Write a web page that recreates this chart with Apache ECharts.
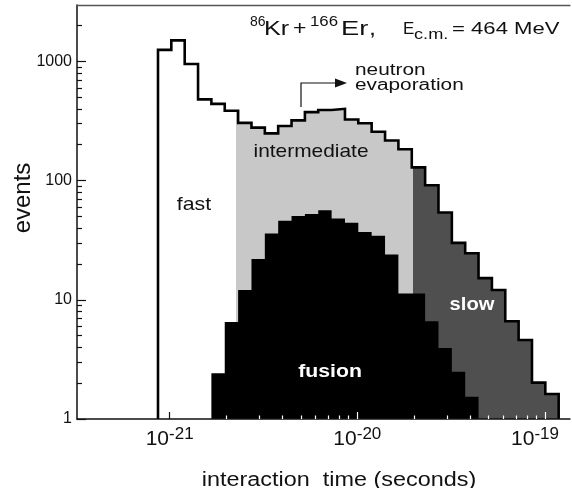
<!DOCTYPE html>
<html>
<head>
<meta charset="utf-8">
<script src="https://cdn.jsdelivr.net/npm/echarts@6/dist/echarts.min.js"></script>
<style>
  html, body { margin: 0; padding: 0; background: #fff; }
  #chart { width: 572px; height: 488px; }
</style>
</head>
<body>
<div id="chart"></div>
<script>
// interaction-time histogram, 30 log-spaced bins (edges in seconds)
const binEdges = [
  8.67e-22, 1.021e-21, 1.203e-21, 1.417e-21, 1.669e-21, 1.966e-21, 2.317e-21, 2.729e-21,
  3.215e-21, 3.787e-21, 4.461e-21, 5.256e-21, 6.191e-21, 7.295e-21, 8.593e-21, 1.012e-20,
  1.192e-20, 1.405e-20, 1.655e-20, 1.950e-20, 2.297e-20, 2.706e-20, 3.188e-20, 3.755e-20,
  4.423e-20, 5.211e-20, 6.139e-20, 7.232e-20, 8.519e-20, 1.0035e-19, 1.182e-19
];
const totalEvents = [
  1250, 1500, 950, 480, 440, 385, 305, 278, 249, 287,
  320, 375, 391, 400, 325, 303, 257, 217, 183, 129,
  91.5, 54, 30, 24.6, 15.2, 12.1, 6.6, 4.6, 2.02, 1.62
];
const fusionEvents = [
  0, 0, 0, 0, 2.42, 6.5, 12.1, 22, 36, 46,
  50.5, 52.5, 56.5, 48, 44.4, 37, 34.4, 24, 11.3, 11.3,
  6.6, 3.94, 2.49, 1.54, 0, 0, 0, 0, 0, 0
];
const fastEnd = 2.27e-21;     // fast | intermediate
const slowStart = 1.98e-20;   // intermediate | slow
const xMajorTicks = [1e-21, 1e-20, 1e-19];
const yMajorTicks = [1, 10, 100, 1000];
const xRange = [3.21e-22, 1.357e-19];
const yRange = [1, 2972];

const lg = Math.log10;
const font = 'Liberation Sans';

function stepPoints(counts) {
  const idx = counts.map((c, i) => (c > 0 ? i : -1)).filter(i => i >= 0);
  const first = idx[0], last = idx[idx.length - 1];
  const pts = [[lg(binEdges[first]), 0]];
  for (let i = first; i <= last; i++) pts.push([lg(binEdges[i]), lg(counts[i])]);
  pts.push([lg(binEdges[last + 1]), lg(counts[last])]);
  pts.push([lg(binEdges[last + 1]), 0]);
  return pts;
}

function minorTicks(lo, hi) {
  const out = [];
  for (let n = Math.floor(lg(lo)); n <= Math.ceil(lg(hi)); n++) {
    for (let k = 2; k <= 9; k++) {
      const v = k * Math.pow(10, n);
      if (v > lo && v < hi) out.push(lg(v));
    }
  }
  return out;
}

// ticks that sit on the filled histogram are drawn white
const fillStart = lg(binEdges[fusionEvents.findIndex(v => v > 0)]);
const xMajor = xMajorTicks.map(lg);
const xMinor = minorTicks(1e-21, xRange[1]);
const yMajor = yMajorTicks.map(lg);
const yMinor = minorTicks(1, yRange[1]);

const chart = echarts.init(document.getElementById('chart'));

const xBase = {
  type: 'value',
  min: lg(xRange[0]),
  max: lg(xRange[1]),
  position: 'bottom',
  splitLine: { show: false },
  axisLine: { show: false },
  axisLabel: { show: false },
  axisTick: { show: false },
  z: 5,
};
const yBase = {
  type: 'value',
  min: 0,
  max: lg(yRange[1]),
  position: 'left',
  splitLine: { show: false },
  axisLine: { show: false, onZero: false },
  axisLabel: { show: false },
  axisTick: { show: false },
  z: 5,
};

function tickAxis(values, len, color) {
  return Object.assign({}, xBase, {
    axisTick: { show: true, inside: true, length: len, customValues: values, lineStyle: { color, width: 1.2 } },
  });
}

const option = {
  animation: false,
  backgroundColor: '#fff',
  grid: { left: 77, right: 0, top: 5, bottom: 69 },
  xAxis: [
    Object.assign({}, xBase, {
      axisLine: { show: true, onZero: false, lineStyle: { color: '#111', width: 1.5 } },
      axisLabel: {
        show: true,
        customValues: xMajor,
        margin: 9,
        formatter: v => {
          const e = Math.round(v);
          return '{b|10}{s|' + e + '}' + (e === Math.round(xMajor[xMajor.length - 1]) ? '{p|}' : '');
        },
        rich: {
          b: { fontFamily: font, fontSize: 21, lineHeight: 22, color: '#111' },
          s: { fontFamily: font, fontSize: 17, lineHeight: 18, padding: [0, 0, 10, 0], color: '#111' },
          p: { width: 20 },
        },
      },
    }),
    tickAxis(xMajor.filter(v => v > fillStart), 7, '#fff'),
    tickAxis(xMinor.filter(v => v > fillStart), 3.5, '#fff'),
    tickAxis(xMajor.filter(v => v <= fillStart), 7, '#111'),
    tickAxis(xMinor.filter(v => v <= fillStart), 3.5, '#111'),
    Object.assign({}, xBase, {
      position: 'top',
      axisLine: { show: true, onZero: false, lineStyle: { color: '#555', width: 1.3 } },
    }),
  ],
  yAxis: [
    Object.assign({}, yBase, {
      axisLine: { show: true, onZero: false, lineStyle: { color: '#111', width: 1.5 } },
      axisTick: { show: true, inside: true, length: 9, customValues: yMajor, lineStyle: { color: '#111', width: 1.2 } },
      axisLabel: {
        show: true,
        customValues: yMajor,
        showMinLabel: true,
        showMaxLabel: true,
        margin: 5,
        fontFamily: font,
        fontSize: 16,
        color: '#111',
        formatter: v => String(Math.round(Math.pow(10, v))),
      },
    }),
    Object.assign({}, yBase, {
      axisTick: { show: true, inside: true, length: 5, customValues: yMinor, lineStyle: { color: '#111', width: 1.2 } },
    }),
  ],
  visualMap: {
    show: false,
    type: 'piecewise',
    seriesIndex: 0,
    dimension: 0,
    pieces: [
      { lt: lg(fastEnd), color: '#ffffff' },
      { gte: lg(fastEnd), lt: lg(slowStart), color: '#c8c8c8' },
      { gte: lg(slowStart), color: '#4f4f4f' },
    ],
  },
  series: [
    {
      name: 'total',
      type: 'line',
      step: 'end',
      symbol: 'none',
      data: stepPoints(totalEvents),
      lineStyle: { width: 0, opacity: 0 },
      areaStyle: { opacity: 1 },
    },
    {
      name: 'fusion',
      type: 'line',
      step: 'end',
      symbol: 'none',
      color: '#000',
      data: stepPoints(fusionEvents),
      lineStyle: { width: 0, opacity: 0 },
      areaStyle: { color: '#000', opacity: 1 },
    },
    {
      name: 'outline',
      type: 'line',
      step: 'end',
      symbol: 'none',
      color: '#000',
      data: stepPoints(totalEvents),
      lineStyle: { color: '#000', width: 2.6, join: 'miter' },
    },
  ],
};

function txt(text, x, y, size, extra) {
  extra = extra || {};
  return {
    type: 'text',
    x, y,
    scaleX: extra.scaleX || 1,
    rotation: extra.rotation || 0,
    z: 20,
    style: {
      text,
      x: 0, y: 0,
      fontFamily: font,
      fontSize: size,
      fontWeight: extra.bold ? 'bold' : 'normal',
      fill: extra.color || '#111',
      align: extra.align || 'left',
      verticalAlign: 'middle',
    },
  };
}

option.graphic = [
  // title
  txt('86', 250, 22.5, 14, { scaleX: 1.0 }),
  txt('Kr', 264, 29.5, 21, { scaleX: 1.2 }),
  txt('+', 293, 29.5, 21, { scaleX: 1.1 }),
  txt('166', 310, 22.5, 14, { scaleX: 1.2 }),
  txt('Er', 341, 29.5, 21, { scaleX: 1.3 }),
  txt(',', 369, 29.5, 21, { scaleX: 1.2 }),
  txt('E', 403, 29, 17, { scaleX: 1.0 }),
  txt('c.m.', 414, 35, 14, { scaleX: 1.3 }),
  txt('= 464 MeV', 452, 29, 17, { scaleX: 1.3 }),
  // arrow
  txt('neutron', 355, 71, 16, { scaleX: 1.3 }),
  txt('evaporation', 355, 86, 16, { scaleX: 1.3 }),
  { type: 'polyline', z: 20, shape: { points: [[301, 107], [301, 83], [338, 83]] }, style: { stroke: '#111', lineWidth: 1.2, fill: null } },
  { type: 'polygon', z: 20, shape: { points: [[335, 78.5], [347, 83], [335, 87.5]] }, style: { fill: '#111' } },
  // regions
  txt('fast', 194, 205, 19, { align: 'center', scaleX: 1.12 }),
  txt('intermediate', 311, 152, 19, { align: 'center', scaleX: 1.1 }),
  txt('fusion', 330, 372, 18, { align: 'center', bold: true, color: '#fff', scaleX: 1.18 }),
  txt('slow', 472, 305, 18, { align: 'center', bold: true, color: '#fff', scaleX: 1.12 }),
  // axis titles
  txt('events', 23, 198, 24, { align: 'center', rotation: Math.PI / 2 }),
  txt('interaction  time (seconds)', 339, 480, 20, { align: 'center', scaleX: 1.17 }),
];

chart.setOption(option);
</script>
</body>
</html>
